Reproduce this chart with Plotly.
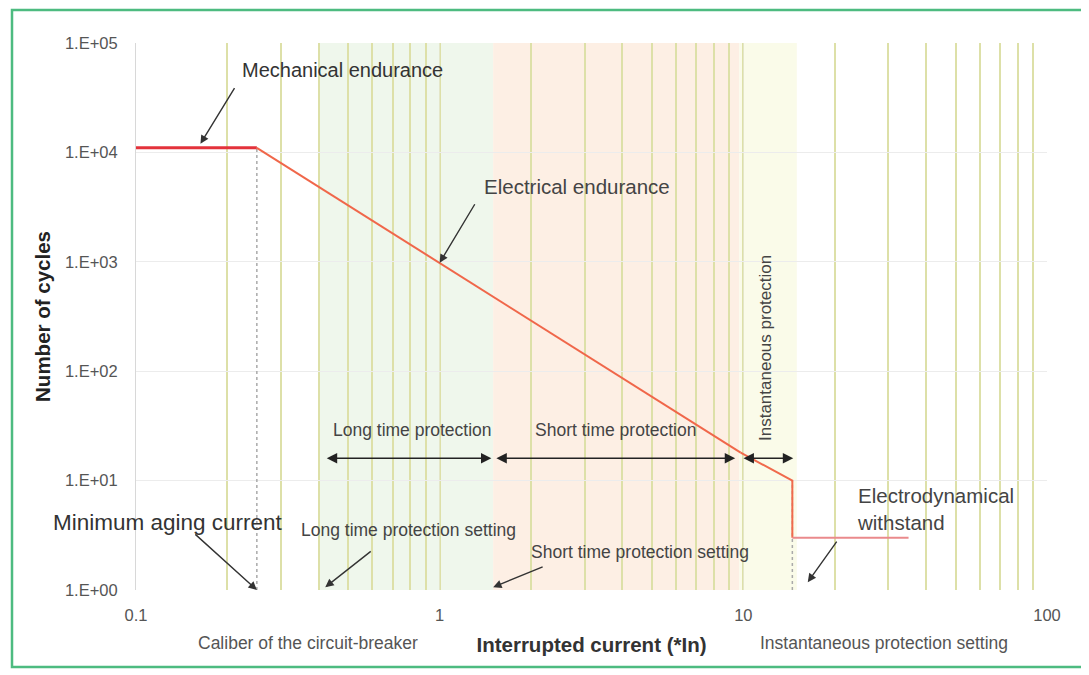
import numpy as np
import plotly.graph_objects as go

# ---------------- data ----------------
curve_x = [0.1, 0.25, 9.8, 14.5, 14.5, 35]
curve_y = [11000, 11000, 18, 10, 3, 3]

x_tickvals = [0.1, 1, 10, 100]
x_ticktext = ["0.1", "1", "10", "100"]
y_tickvals = [1, 10, 100, 1000, 10000, 100000]
y_ticktext = ["1.E+00", "1.E+01", "1.E+02", "1.E+03", "1.E+04", "1.E+05"]

# zones (x in units of In)
long_zone = [0.4, 1.5]
short_zone = [1.5, 9.7]
inst_zone = [9.7, 15]

# protection range arrows
range_y = 16
long_range = [0.42, 1.48]
short_range = [1.52, 9.4]
inst_range = [9.9, 14.6]

aging_current = 0.25
inst_setting = 14.5

# ---------------- geometry helpers ----------------
# page body has an 8px margin: the figure is drawn offset by 8px
OFF = 8
W, H = 1089 - OFF, 675 - OFF
L, R, T, B = 136 - OFF, 42, 43 - OFF, 85
PW, PH = W - L - R, H - T - B


def px(xp):
    return (xp - OFF - L) / PW


def py(yp):
    return (H - B - (yp - OFF)) / PH


FONT = "Liberation Sans, Arial, sans-serif"
fig = go.Figure()

# zone shading
for (x0, x1), col in [(long_zone, "#eff7ec"), (short_zone, "#fdefe4"), (inst_zone, "#fafbe9")]:
    fig.add_shape(type="rect", xref="x", yref="paper", x0=x0, x1=x1, y0=0, y1=1,
                  fillcolor=col, line_width=0, layer="below")

# dotted guide lines
fig.add_trace(go.Scatter(x=[aging_current, aging_current], y=[1, curve_y[1]], mode="lines",
                         line=dict(color="#aaaaaa", width=1.5, dash="dot"), hoverinfo="skip"))
fig.add_trace(go.Scatter(x=[inst_setting, inst_setting], y=[1, curve_y[3]], mode="lines",
                         line=dict(color="#aaaaaa", width=1.5, dash="dot"), hoverinfo="skip"))

# endurance curve
fig.add_trace(go.Scatter(x=curve_x[0:2], y=curve_y[0:2], mode="lines",
                         line=dict(color="#e3323b", width=3), hoverinfo="skip"))
fig.add_trace(go.Scatter(x=curve_x[1:3], y=curve_y[1:3], mode="lines",
                         line=dict(color="#f0674a", width=2), hoverinfo="skip"))
fig.add_trace(go.Scatter(x=curve_x[2:5], y=curve_y[2:5], mode="lines",
                         line=dict(color="#f06a4c", width=2), hoverinfo="skip"))
fig.add_trace(go.Scatter(x=curve_x[4:6], y=curve_y[4:6], mode="lines",
                         line=dict(color="#ea8a8c", width=2), hoverinfo="skip"))

ann = []
# double-headed range arrows
for rng in [long_range, short_range, inst_range]:
    ann.append(dict(x=np.log10(rng[1]), y=np.log10(range_y), ax=np.log10(rng[0]), ay=np.log10(range_y),
                    xref="x", yref="y", axref="x", ayref="y", text="", showarrow=True,
                    arrowhead=2, startarrowhead=2, arrowside="end+start", arrowsize=1.3,
                    arrowwidth=1.6, arrowcolor="#222222", standoff=0, startstandoff=0))

# pointer arrows: (tip_x, tip_y, dx, dy)
pointers = [
    (0.163, 12000, 35, -57),     # Mechanical endurance
    (1.0, 980, 36, -60),         # Electrical endurance
    (0.25, 1.0, -63, -57),       # Minimum aging current
    (0.42, 1.06, 47, -37),       # Long time protection setting
    (1.5, 1.06, 51, -21),        # Short time protection setting
    (1.0, 0.97, -45, 40),        # Caliber
    (9.8, 0.97, 27, 36),         # Instantaneous protection setting
    (16.3, 1.18, 30, -42),       # Electrodynamical withstand
]
for tx, ty, dx, dy in pointers:
    ann.append(dict(x=np.log10(tx), y=np.log10(ty), xref="x", yref="y", text="", showarrow=True,
                    ax=dx, ay=dy, arrowhead=2, arrowsize=1.2, arrowwidth=1.4,
                    arrowcolor="#333333", standoff=0))


def txt(s, xp, yp, size=14, color="#444444", xanchor="center", angle=0):
    ann.append(dict(text=s, x=px(xp), y=py(yp), xref="paper", yref="paper", showarrow=False,
                    xanchor=xanchor, yanchor="middle", textangle=angle,
                    align=xanchor if xanchor != "center" else "center",
                    font=dict(family=FONT, size=size, color=color)))


txt("Mechanical endurance", 240, 70, 20, "#333333", "left")
txt("Electrical endurance", 482, 186, 20.5, "#444444", "left")
txt("Long time protection", 412, 430, 17.5, "#444444")
txt("Short time protection", 615, 430, 17.5, "#444444")
txt("Instantaneous protection", 766, 348, 17, "#444444", angle=-90)
txt("Minimum aging current", 285, 522, 22.5, "#333333", "right")
txt("Long time protection setting", 408, 530, 17.5, "#444444")
txt("Short time protection setting", 640, 552, 17.5, "#444444")
txt("Caliber of the circuit-breaker", 308, 643, 17.5, "#555555")
txt("Instantaneous protection setting", 884, 643, 17.5, "#555555")
txt("Electrodynamical<br>withstand", 855, 509, 20.5, "#444444", "left")

# outer green frame
fig.add_shape(type="rect", xref="paper", yref="paper",
              x0=px(12), x1=px(1085), y0=py(667), y1=py(10),
              line=dict(color="#4dbb80", width=2.5), fillcolor="rgba(0,0,0,0)", layer="above")

fig.update_layout(
    width=W, height=H,
    margin=dict(l=L, r=R, t=T, b=B),
    paper_bgcolor="white", plot_bgcolor="white",
    showlegend=False,
    font=dict(family=FONT, color="#555555"),
    annotations=ann,
    xaxis=dict(
        type="log", range=[-1, 2], tickvals=x_tickvals, ticktext=x_ticktext,
        showgrid=True, gridcolor="#e4e6c8", gridwidth=1,
        minor=dict(dtick="D1", showgrid=True, gridcolor="#dde0a8", gridwidth=1.6, ticks=""),
        zeroline=False, showline=False, ticks="", ticklabelstandoff=13,
        tickfont=dict(size=16.5, color="#555555", family=FONT),
        title=dict(text="<b>Interrupted current (*In)</b>", font=dict(size=20.5, color="#333333", family=FONT),
                   standoff=15),
    ),
    yaxis=dict(
        type="log", range=[0, 5], tickvals=y_tickvals, ticktext=y_ticktext,
        showgrid=True, gridcolor="#ececec", gridwidth=1,
        zeroline=False, showline=True, linecolor="#d8d8d8", ticks="", ticklabelstandoff=14,
        tickfont=dict(size=16.5, color="#555555", family=FONT),
        title=dict(text="<b>Number of cycles</b>", font=dict(size=20.5, color="#222222", family=FONT),
                   standoff=8),
    ),
)

fig.write_html("out.html")
